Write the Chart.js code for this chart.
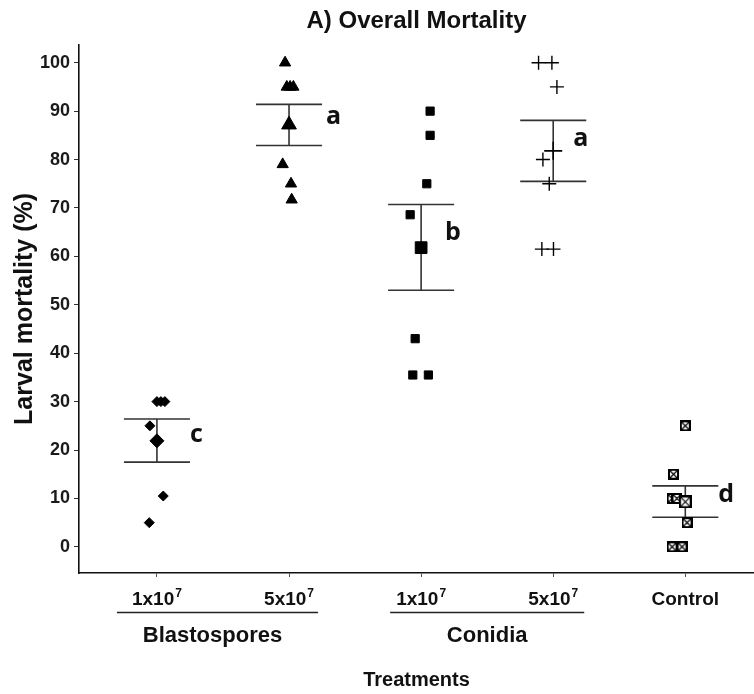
<!DOCTYPE html>
<html>
<head>
<meta charset="utf-8">
<script src="https://cdn.jsdelivr.net/npm/chart.js@4.4.1/dist/chart.umd.min.js"></script>
<style>
  html, body { margin: 0; padding: 0; background: #ffffff; }
  #chart { display: block; }
</style>
</head>
<body>
<canvas id="chart" width="754" height="694"></canvas>
<script>
// ---- treatments on the x axis ----
const doseLabels    = ['1x10', '5x10', '1x10', '5x10', 'Control'];
const doseExponents = ['7', '7', '7', '7', ''];
const agentLabels   = ['Blastospores', 'Conidia'];
const agentMembers  = [[1, 2], [3, 4]];

// ---- larval mortality (%) per replicate, with horizontal jitter ----
const blasto1Mort = [30, 30, 30, 25, 10.5, 5];
const blasto1Jit  = [0, 0.03, 0.06, -0.053, 0.048, -0.058];
const blasto5Mort = [100, 95, 95, 95, 79, 75, 71.7];
const blasto5Jit  = [-0.03, -0.017, 0.008, 0.033, -0.048, 0.015, 0.02];
const conid1Mort  = [90, 85, 75, 68.6, 43, 35.5, 35.5];
const conid1Jit   = [0.068, 0.068, 0.043, -0.083, -0.045, -0.063, 0.055];
const conid5Mort  = [100, 100, 95, 80, 75, 61.5, 61.5];
const conid5Jit   = [-0.111, -0.01, 0.028, -0.078, -0.03, -0.086, 0.002];
const controlMort = [25, 15, 10, 10, 5, 0, 0];
const controlJit  = [0, -0.089, -0.1, -0.063, 0.013, -0.1, -0.025];

// ---- group means and mean ± SE limits ----
const meanMort = [21.9, 87.2, 61.8, 81.8, 9.3];
const seLow    = [17.5, 82.9, 53.0, 75.5, 6.1];
const seHigh   = [26.4, 91.4, 70.7, 88.1, 12.6];

// ---- significance letters ----
const sigLetters = ['c', 'a', 'b', 'a', 'd'];

// ---- y tick values ----
const yTickValues = [0, 10, 20, 30, 40, 50, 60, 70, 80, 90, 100];

// square with a cross inside, used for the control group
function boxCross(size, lw) {
  const c = document.createElement('canvas');
  c.width = size; c.height = size;
  const g = c.getContext('2d');
  g.fillStyle = '#ffffff';
  g.fillRect(0, 0, size, size);
  g.strokeStyle = '#000000';
  g.lineWidth = lw;
  g.strokeRect(lw / 2, lw / 2, size - lw, size - lw);
  g.lineWidth = 1.2;
  g.beginPath();
  g.moveTo(lw, lw); g.lineTo(size - lw, size - lw);
  g.moveTo(size - lw, lw); g.lineTo(lw, size - lw);
  g.stroke();
  return c;
}
const boxSmall = boxCross(11, 2);
const boxLarge = boxCross(13, 2.2);

function groupPoints(values, jitter, pos) {
  return values.map((v, i) => ({ x: pos + jitter[i], y: v }));
}

// error bars: vertical whisker plus two caps, broken by gaps
const capHalf = 0.25;
const errorBarPoints = [];
meanMort.forEach((m, i) => {
  const g = i + 1;
  errorBarPoints.push(
    { x: g - capHalf, y: seHigh[i] }, { x: g + capHalf, y: seHigh[i] }, { x: g, y: null },
    { x: g, y: seHigh[i] }, { x: g, y: seLow[i] }, { x: g, y: null },
    { x: g - capHalf, y: seLow[i] }, { x: g + capHalf, y: seLow[i] }, { x: g, y: null }
  );
});

const FONT = '"Liberation Sans", Arial, sans-serif';

// letters placed to the right of each error bar (pixel offsets)
const letterPlugin = {
  id: 'sigLetters',
  afterDatasetsDraw(chart, args, opts) {
    const { ctx } = chart;
    const xs = chart.scales.x, ys = chart.scales.y;
    ctx.save();
    ctx.fillStyle = '#111111';
    ctx.font = 'bold 25px "Open Sans", ' + FONT;
    ctx.textAlign = 'left';
    ctx.textBaseline = 'middle';
    sigLetters.forEach((t, i) => {
      const px = xs.getPixelForValue(i + 1) + opts.dx[i];
      const py = ys.getPixelForValue(meanMort[i]) + opts.dy[i];
      ctx.fillText(t, px, py);
    });
    ctx.restore();
  }
};

// dose labels with superscript exponents, and the grouped agent labels
const treatmentPlugin = {
  id: 'treatmentLabels',
  afterDraw(chart, args, opts) {
    const { ctx } = chart;
    const xs = chart.scales.x;
    ctx.save();
    ctx.fillStyle = '#111111';
    ctx.textBaseline = 'alphabetic';
    ctx.textAlign = 'left';
    const big = 'bold 19px ' + FONT, small = 'bold 12px ' + FONT;
    doseLabels.forEach((lab, i) => {
      const cx = xs.getPixelForValue(i + 1);
      ctx.font = big;
      const w1 = ctx.measureText(lab).width;
      ctx.font = small;
      const sup = doseExponents[i];
      const w2 = sup ? ctx.measureText(sup).width + 1 : 0;
      const x0 = cx - (w1 + w2) / 2;
      ctx.font = big;
      ctx.fillText(lab, x0, opts.doseBaseline);
      if (sup) {
        ctx.font = small;
        ctx.fillText(sup, x0 + w1 + 1, opts.doseBaseline - 8);
      }
    });
    ctx.strokeStyle = '#222222';
    ctx.lineWidth = 1.3;
    ctx.textAlign = 'center';
    ctx.font = 'bold 22px ' + FONT;
    agentLabels.forEach((lab, k) => {
      const [a, b] = agentMembers[k];
      const x1 = xs.getPixelForValue(a) + opts.lineExt[k][0];
      const x2 = xs.getPixelForValue(b) + opts.lineExt[k][1];
      ctx.beginPath();
      ctx.moveTo(x1, opts.lineY);
      ctx.lineTo(x2, opts.lineY);
      ctx.stroke();
      ctx.fillText(lab, (x1 + x2) / 2 - opts.agentShift[k], opts.agentBaseline);
    });
    ctx.restore();
  }
};

new Chart(document.getElementById('chart'), {
  type: 'scatter',
  data: {
    datasets: [
      {
        label: 'Mean',
        data: meanMort.map((m, i) => ({ x: i + 1, y: m })),
        pointStyle: ['rectRot', 'triangle', 'rect', 'cross', boxLarge],
        pointRadius: [7, 8.5, 8.3, 9, 7],
        borderWidth: [1, 1, 1, 1.6, 1],
        backgroundColor: '#000000',
        borderColor: '#000000'
      },
      {
        label: 'Blastospores 1x10^7',
        data: groupPoints(blasto1Mort, blasto1Jit, 1),
        pointStyle: 'rectRot', pointRadius: 5, borderWidth: 1,
        backgroundColor: '#000000', borderColor: '#000000'
      },
      {
        label: 'Blastospores 5x10^7',
        data: groupPoints(blasto5Mort, blasto5Jit, 2),
        pointStyle: 'triangle', pointRadius: 6.5, borderWidth: 1,
        backgroundColor: '#000000', borderColor: '#000000'
      },
      {
        label: 'Conidia 1x10^7',
        data: groupPoints(conid1Mort, conid1Jit, 3),
        pointStyle: 'rect', pointRadius: 5.8, borderWidth: 1,
        backgroundColor: '#000000', borderColor: '#000000'
      },
      {
        label: 'Conidia 5x10^7',
        data: groupPoints(conid5Mort, conid5Jit, 4),
        pointStyle: 'cross', pointRadius: 7, borderWidth: 1.4,
        backgroundColor: '#000000', borderColor: '#000000'
      },
      {
        label: 'Control',
        data: groupPoints(controlMort, controlJit, 5),
        pointStyle: boxSmall, pointRadius: 5,
        backgroundColor: '#000000', borderColor: '#000000'
      },
      {
        label: 'SE',
        data: errorBarPoints,
        showLine: true,
        spanGaps: false,
        pointRadius: 0,
        borderColor: '#333333',
        borderWidth: 1.6
      }
    ]
  },
  options: {
    responsive: false,
    animation: false,
    devicePixelRatio: 1,
    layout: { autoPadding: false, padding: { left: 0, right: 0, top: 0, bottom: 0 } },
    plugins: {
      legend: { display: false },
      tooltip: { enabled: false },
      title: {
        display: true,
        text: 'A) Overall Mortality',
        fullSize: false,
        color: '#111111',
        font: { family: FONT, size: 24, weight: 'bold', lineHeight: 1.2 },
        padding: { top: 7, bottom: 9 }
      },
      sigLetters: {
        dx: [33, 37, 24, 20, 33],
        dy: [-6, -8, -15, -12, -7]
      },
      treatmentLabels: {
        doseBaseline: 605,
        lineY: 612.5,
        agentBaseline: 642,
        lineExt: [[-40, 29], [-31, 31]],
        agentShift: [5, 0]
      }
    },
    scales: {
      x: {
        type: 'linear',
        min: 0.41,
        max: 5.52,
        afterFit(scale) { scale.height = 121; },
        border: { display: true, color: '#111111', width: 1.6 },
        grid: { drawOnChartArea: false, drawTicks: true, tickLength: 4, color: '#555555' },
        ticks: { display: false, stepSize: 1, includeBounds: false },
        title: {
          display: true,
          text: 'Treatments',
          color: '#111111',
          font: { family: FONT, size: 20, weight: 'bold', lineHeight: 1.2 },
          padding: { top: 0, bottom: 2 }
        }
      },
      y: {
        type: 'linear',
        min: -5.4,
        max: 103.7,
        afterFit(scale) { scale.width = 79; },
        afterBuildTicks(scale) { scale.ticks = yTickValues.map(v => ({ value: v })); },
        border: { display: true, color: '#111111', width: 1.6 },
        grid: { drawOnChartArea: false, drawTicks: true, tickLength: 5, color: '#333333' },
        ticks: {
          includeBounds: false,
          padding: 4,
          color: '#1a1a1a',
          font: { family: FONT, size: 18, weight: 'bold' }
        },
        title: {
          display: true,
          text: 'Larval mortality (%)',
          color: '#111111',
          font: { family: FONT, size: 25, weight: 'bold', lineHeight: 1.2 },
          padding: { top: 10, bottom: 0 }
        }
      }
    }
  },
  plugins: [letterPlugin, treatmentPlugin]
});
</script>
</body>
</html>
